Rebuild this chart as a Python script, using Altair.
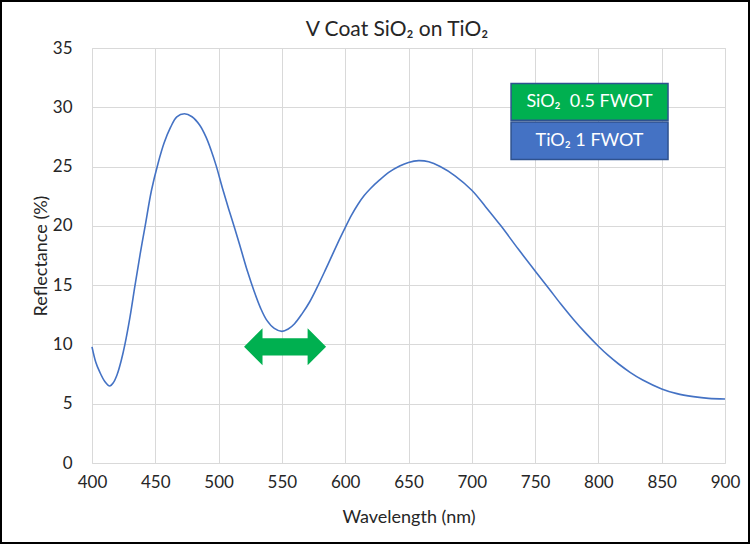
import altair as alt
import pandas as pd

# Reflectance curve
wavelength = [400, 403, 406, 410, 414, 417, 420, 423, 426, 430, 434, 438, 442, 447, 452,
              457, 462, 467, 473, 479, 485, 490, 494, 498, 503, 508, 513, 518, 523, 528,
              533, 538, 544, 550, 555, 560, 566, 572, 578, 584, 590, 595, 600, 605, 610,
              615, 620, 627, 635, 643, 650, 658, 666, 675, 687, 700, 711, 723, 737, 750,
              761, 770, 780, 790, 800, 808, 816, 825, 835, 850, 862, 875, 887, 900]
reflectance = [9.8, 8.5, 7.7, 6.9, 6.5, 6.8, 7.5, 8.6, 10.0, 12.3, 15.0, 17.6, 20.0, 23.0, 25.2,
               27.0, 28.3, 29.2, 29.45, 29.2, 28.5, 27.5, 26.4, 25.1, 23.2, 21.4, 19.7, 17.9, 16.1, 14.5,
               13.1, 12.05, 11.35, 11.1, 11.3, 11.75, 12.6, 13.6, 14.85, 16.2, 17.6, 18.75, 19.85, 20.9, 21.8,
               22.55, 23.15, 23.85, 24.55, 25.05, 25.35, 25.5, 25.4, 25.0, 24.2, 23.0, 21.6, 20.0, 18.0,
               16.2, 14.7, 13.45, 12.15, 10.95, 9.85, 9.05, 8.35, 7.65, 7.0, 6.25, 5.85, 5.6, 5.45, 5.4]

# Layer-stack boxes
box_labels = ["SiO₂\u00a0\u00a00.5 FWOT", "TiO₂ 1 FWOT"]
box_x1 = [731, 731]
box_x2 = [855, 855]
box_top = [32.0, 28.75]
box_bottom = [28.9, 25.6]
box_fill = ["#00B050", "#4472C4"]

# Double arrow marker position
arrow_x = [552.5]
arrow_y = [9.8]

title_text = ["V Coat SiO₂ on TiO₂"]

FONT = "Lato"
TEXT = "#262626"

curve_df = pd.DataFrame({"Wavelength": wavelength, "Reflectance": reflectance})
box_df = pd.DataFrame({
    "label": box_labels, "x1": box_x1, "x2": box_x2,
    "top": box_top, "bottom": box_bottom, "fill": box_fill,
    "xm": [(a + b) / 2 for a, b in zip(box_x1, box_x2)],
    "ym": [(a + b) / 2 for a, b in zip(box_top, box_bottom)],
})
arrow_df = pd.DataFrame({"x": arrow_x, "y": arrow_y})
title_df = pd.DataFrame({"t": title_text})

xscale = alt.Scale(domain=[400, 900], nice=False, zero=False)
yscale = alt.Scale(domain=[0, 35], nice=False)

xaxis = alt.Axis(values=list(range(400, 901, 50)), title="Wavelength (nm)", grid=True,
                 gridColor="#D9D9D9", ticks=False, domain=False, labelFont=FONT,
                 labelFontSize=17, labelColor=TEXT, labelPadding=11, labelFlush=False,
                 titleFont=FONT, titleFontSize=18, titleFontWeight="normal", titleColor=TEXT,
                 titlePadding=18)
yaxis = alt.Axis(values=list(range(0, 36, 5)), title="Reflectance (%)", grid=True,
                 gridColor="#D9D9D9", ticks=False, domain=False, labelFont=FONT,
                 labelFontSize=17, labelColor=TEXT, labelPadding=20, labelFlush=False,
                 titleFont=FONT, titleFontSize=18, titleFontWeight="normal", titleColor=TEXT,
                 titlePadding=2)

curve = alt.Chart(curve_df).mark_line(color="#4472C4", strokeWidth=1.6, interpolate="catmull-rom").encode(
    x=alt.X("Wavelength:Q", scale=xscale, axis=xaxis),
    y=alt.Y("Reflectance:Q", scale=yscale, axis=yaxis),
)

boxes = alt.Chart(box_df).mark_rect(stroke="#2F528F", strokeWidth=1.5).encode(
    x=alt.X("x1:Q", scale=xscale), x2="x2:Q",
    y=alt.Y("top:Q", scale=yscale), y2="bottom:Q",
    fill=alt.Fill("fill:N", scale=None),
)
box_text = alt.Chart(box_df).mark_text(color="white", font=FONT, fontSize=18).encode(
    x=alt.X("xm:Q", scale=xscale), y=alt.Y("ym:Q", scale=yscale), text="label:N",
)

arrow_path = ("M -1 0 L -0.55 -0.45 L -0.55 -0.21 L 0.55 -0.21 L 0.55 -0.45 L 1 0 "
              "L 0.55 0.45 L 0.55 0.21 L -0.55 0.21 L -0.55 0.45 Z")
arrow = alt.Chart(arrow_df).mark_point(shape=arrow_path, filled=True, color="#00B050",
                                       opacity=1, size=82 * 82, strokeWidth=0).encode(
    x=alt.X("x:Q", scale=xscale), y=alt.Y("y:Q", scale=yscale),
)

title = alt.Chart(title_df).mark_text(font=FONT, fontSize=21, color=TEXT, align="center",
                                      baseline="middle").encode(
    x=alt.value(305), y=alt.value(-18), text="t:N",
)

border = alt.Chart(pd.DataFrame({"a": [0]})).mark_rect(fill=None, stroke="black", strokeWidth=2).encode(
    x=alt.value(-91), x2=alt.value(657), y=alt.value(-47), y2=alt.value(495),
)

chart = alt.layer(curve, boxes, box_text, arrow, title, border).properties(
    width=633, height=415,
    autosize=alt.AutoSizeParams(type="none"),
    padding={"left": 92, "top": 48, "right": 25, "bottom": 81},
).configure_view(stroke=None).configure(background="white")

chart.save("out.html", embed_options={"renderer": "svg", "actions": False})
